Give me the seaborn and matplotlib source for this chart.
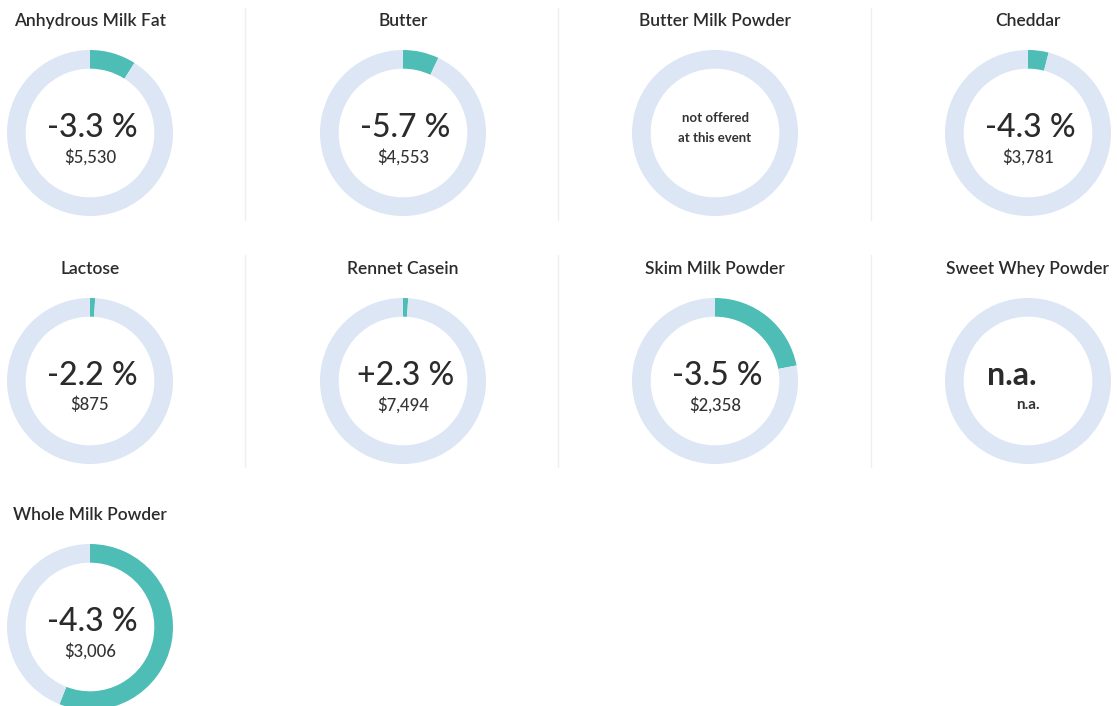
import numpy as np
import matplotlib
matplotlib.use("Agg")
import matplotlib.pyplot as plt
from matplotlib.lines import Line2D
import seaborn as sns

# 数据
products = ['Anhydrous Milk Fat', 'Butter', 'Butter Milk Powder', 'Cheddar',
            'Lactose', 'Rennet Casein', 'Skim Milk Powder', 'Sweet Whey Powder',
            'Whole Milk Powder']
shares = [0.09, 0.07, 0.0, 0.04, 0.01, 0.01, 0.22, 0.0, 0.56]
changes = ['-3.3 %', '-5.7 %', None, '-4.3 %', '-2.2 %', '+2.3 %', '-3.5 %', 'n.a.', '-4.3 %']
prices = ['$5,530', '$4,553', None, '$3,781', '$875', '$7,494', '$2,358', 'n.a.', '$3,006']

sns.set_theme(style='white')
plt.rcParams['font.family'] = ['Lato', 'DejaVu Sans']

teal = '#4dbdb6'
ring = '#dce6f4'
txt = '#2b2b2b'

W, H = 1117, 706
fig = plt.figure(figsize=(W / 100, H / 100), dpi=100)

col_x = [90, 403, 715, 1028]
row_y = [133, 381, 627]
R = 83  # 外半径 (px)
lim = 1.25
half = R * lim

for i, name in enumerate(products):
    r, c = divmod(i, 4)
    cx, cy = col_x[c], row_y[r]
    ax = fig.add_axes([(cx - half) / W, 1 - (cy + half) / H, 2 * half / W, 2 * half / H])
    s = shares[i]
    if s > 0:
        vals, cols = [s, 1 - s], [teal, ring]
    else:
        vals, cols = [1], [ring]
    ax.pie(vals, colors=cols, startangle=90, counterclock=False, radius=1,
           wedgeprops=dict(width=0.225, edgecolor='none'))
    ax.set_xlim(-lim, lim)
    ax.set_ylim(-lim, lim)
    ax.set_aspect('equal')
    ax.axis('off')

    # 标题
    fig.text(cx / W, 1 - (cy - 112) / H, name, ha='center', va='center',
             fontsize=12.5, color=txt, fontweight='semibold')

    if changes[i] is None:
        ax.text(0, 0.18, 'not offered', ha='center', va='center', fontsize=9.5,
                fontweight='bold', color='#333333')
        ax.text(0, -0.06, 'at this event', ha='center', va='center', fontsize=9.5,
                fontweight='bold', color='#333333')
    elif changes[i] == 'n.a.':
        ax.text(-0.19, 0.07, changes[i], ha='center', va='center', fontsize=23,
                fontweight='bold', color=txt)
        ax.text(0.0, -0.29, prices[i], ha='center', va='center', fontsize=11,
                fontweight='bold', color='#333333')
    else:
        ax.text(0.03, 0.06, changes[i], ha='center', va='center', fontsize=23,
                fontweight='medium', color=txt)
        ax.text(0.0, -0.29, prices[i], ha='center', va='center', fontsize=12,
                fontweight='medium', color='#333333')

# 分隔线
for sx in [245, 558, 871]:
    for y0, y1 in [(8, 220), (255, 467)]:
        fig.add_artist(Line2D([sx / W, sx / W], [1 - y0 / H, 1 - y1 / H],
                              color='#efefef', lw=1))

fig.savefig('out.png', dpi=100, facecolor='white')
